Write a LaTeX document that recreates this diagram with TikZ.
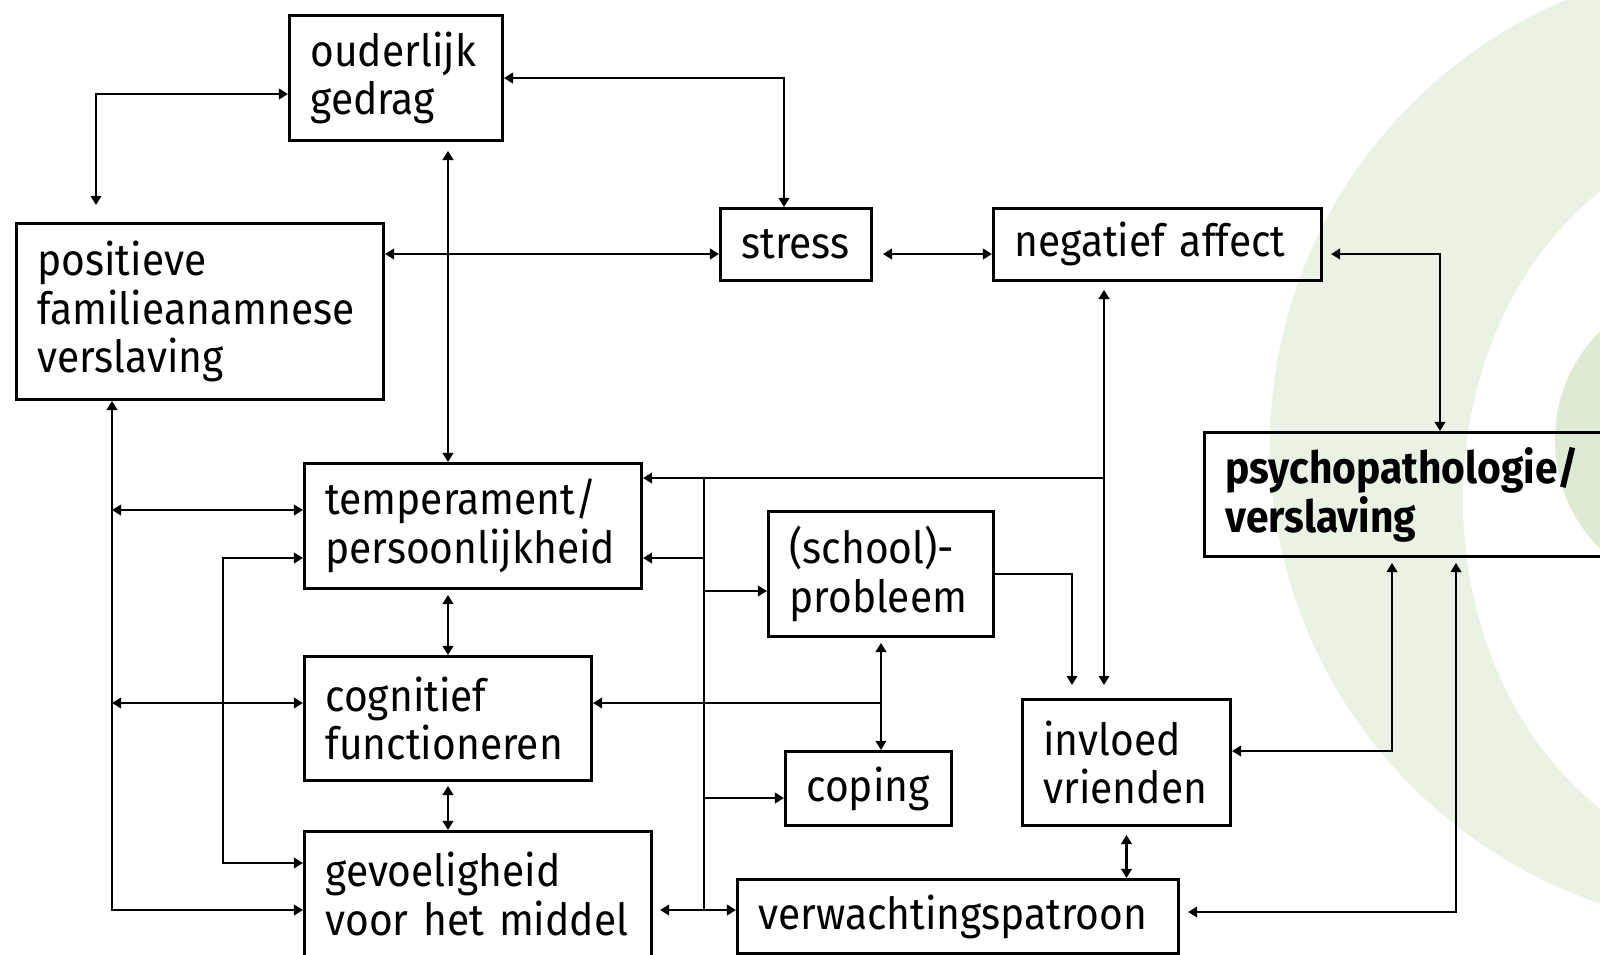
\documentclass[tikz,border=0pt]{standalone}
\usepackage{fontspec}
\setmainfont{Fira Sans}[FakeStretch=0.92]
\usetikzlibrary{arrows.meta}
\definecolor{ringgreen}{RGB}{234,242,228}
\definecolor{coregreen}{RGB}{221,234,212}
\hyphenpenalty=10000

\begin{document}
\begin{tikzpicture}[
    x=0.01cm, y=-0.01cm,
    >={Triangle[length=2.6pt,width=3pt]},
    font=\fontsize{12.6}{13.9}\selectfont,
    factor/.style={
        draw=black,
        line width=0.8pt,
        anchor=north west,
        align=left,
        inner xsep=0.21cm,
        inner ysep=0pt
    },
    outcome/.style={
        factor,
        font=\fontsize{12.6}{13.9}\selectfont\bfseries
    },
    link/.style={
        ->,
        line width=0.65pt
    },
    duallink/.style={
        <->,
        line width=0.65pt
    },
    bus/.style={
        line width=0.65pt
    }
]

\useasboundingbox (0,0) rectangle (1600,954);

% background rings
\fill[ringgreen] (1760,445) ellipse [x radius=490, y radius=485];
\fill[white]     (1760,500) ellipse [x radius=297, y radius=366];
\fill[coregreen] (1700,440) ellipse [x radius=145, y radius=150];

\node[factor, text width=1.71cm, minimum height=1.25cm] (parent)   at (288,14)   {ouderlijk\\gedrag};
\node[factor, text width=3.25cm, minimum height=1.76cm] (famil)    at (15,222)   {positieve\\familieanamnese\\verslaving};
\node[factor, text width=1.09cm, minimum height=0.72cm] (stress)   at (719,207)  {stress};
\node[factor, text width=2.86cm, minimum height=0.72cm] (negaff)   at (992,207)  {negatief~affect};
\node[outcome, text width=3.95cm, minimum height=1.24cm] (psycho)  at (1203,431) {psychopathologie/\\verslaving};
\node[factor, text width=2.95cm, minimum height=1.25cm] (temper)   at (303,462)  {temperament/\\persoonlijkheid};
\node[factor, text width=1.83cm, minimum height=1.25cm] (school)   at (767,510)  {(school)-\\probleem};
\node[factor, text width=2.45cm, minimum height=1.24cm] (cogn)     at (303,655)  {cognitief\\functioneren};
\node[factor, text width=1.24cm, minimum height=0.74cm] (coping)   at (784,750)  {coping};
\node[factor, text width=1.66cm, minimum height=1.26cm] (invloed)  at (1021,698) {invloed\\vrienden};
\node[factor, text width=3.05cm, minimum height=1.25cm] (gevoel)   at (303,830)  {gevoeligheid\\voor~het~middel};
\node[factor, text width=3.99cm, minimum height=0.74cm] (verwacht) at (736,878)  {verwachtingspatroon};

% bends and bus points
\coordinate (fp)  at (96,94);
\coordinate (ps)  at (784,78);
\coordinate (row) at (0,254);
\coordinate (np)  at (1440,254);
\coordinate (lb)  at (112,910);
\coordinate (tl)  at (112,510);
\coordinate (cl)  at (112,703);
\coordinate (ib1) at (223,558);
\coordinate (ib2) at (223,863);
\coordinate (mbt) at (704,478);
\coordinate (mb2) at (704,591);
\coordinate (mb3) at (704,798);
\coordinate (mbb) at (704,910);
\coordinate (nv)  at (1104,478);
\coordinate (si)  at (1072,574);
\coordinate (pi)  at (1392,751);
\coordinate (pv)  at (1456,912);

% top part
\draw[duallink, shorten <=0.17cm] (famil.north -| fp) -- (fp) -- (parent.west |- fp);
\draw[duallink] (parent.east |- ps) -- (ps) -- (stress.north -| ps);
\draw[duallink] (famil.east |- row) -- (stress.west |- row);
\draw[duallink, shorten <=0.1cm] (stress.east |- row) -- (negaff.west |- row);
\draw[duallink, shorten <=0.08cm] (negaff.east |- np) -- (np) -- (psycho.north -| np);

% centre column
\draw[duallink, shorten <=0.09cm] (parent.south -| cogn.north) -- (temper.north -| cogn.north);
\draw[duallink, shorten <=0.05cm] (temper.south -| cogn.north) -- (cogn.north);
\draw[duallink, shorten <=0.04cm] (cogn.south) -- (gevoel.north -| cogn.south);

% left buses
\draw[duallink] (famil.south -| lb) -- (lb) -- (gevoel.west |- lb);
\draw[duallink] (tl) -- (temper.west |- tl);
\draw[duallink] (cl) -- (cogn.west |- cl);
\draw[duallink] (temper.west |- ib1) -- (ib1) -- (ib2) -- (gevoel.west |- ib2);

% middle bus
\draw[duallink, shorten <=0.08cm, shorten >=0.13cm] (negaff.south -| nv) -- (invloed.north -| nv);
\draw[link] (nv) -- (temper.east |- nv);
\draw[bus] (mbt) -- (mbb);
\draw[link] (mbt |- ib1) -- (temper.east |- ib1);
\draw[link] (mb2) -- (school.west |- mb2);
\draw[link] (mb3) -- (coping.west |- mb3);
\draw[duallink, shorten <=0.07cm] (gevoel.east |- mbb) -- (verwacht.west |- mbb);

% school, friends, outcome
\draw[link, shorten >=0.13cm] (school.east |- si) -- (si) -- (invloed.north -| si);
\draw[duallink, shorten <=0.05cm] (school.south) -- (coping.north -| school.south);
\draw[link] (school.south |- cl) -- (cogn.east |- cl);
\draw[duallink, shorten <=0.08cm] (invloed.south) -- (verwacht.north -| invloed.south);
\draw[duallink, shorten <=0.05cm] (psycho.south -| pi) -- (pi) -- (invloed.east |- pi);
\draw[duallink, shorten <=0.05cm, shorten >=0.08cm] (psycho.south -| pv) -- (pv) -- (verwacht.east |- pv);

\end{tikzpicture}
\end{document}
